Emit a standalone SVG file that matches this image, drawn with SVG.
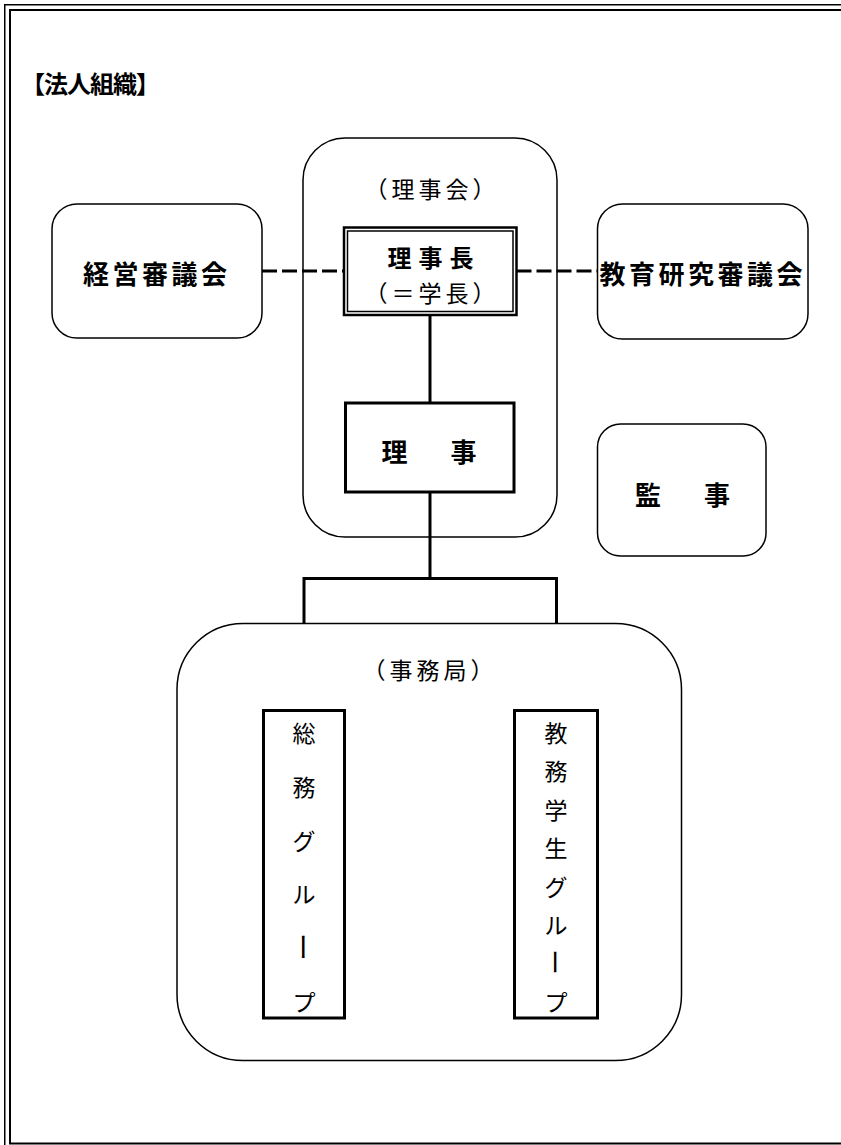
<svg xmlns="http://www.w3.org/2000/svg" width="841" height="1145" viewBox="0 0 841 1145">
<style>
  .t { font-family: "Noto Sans CJK JP", "Noto Sans CJK SC", sans-serif; fill: #000; dominant-baseline: central; text-anchor: middle; }
  .b { font-weight: bold; }
  .r { font-weight: normal; }
  .thin { fill: #fff; stroke: #000; stroke-width: 1.5; }
  .thick { fill: #fff; stroke: #000; stroke-width: 3; }
  .conn { fill: none; stroke: #000; stroke-width: 3; }
  .dash { fill: none; stroke: #000; stroke-width: 3; stroke-dasharray: 15 5; }
</style>
<rect x="0" y="0" width="841" height="1145" fill="#fff"/>
<g id="frame">
  <rect x="4.75" y="4.75" width="900" height="1200" fill="none" stroke="#000" stroke-width="1.5"/>
  <rect x="10" y="10" width="900" height="1133.5" fill="none" stroke="#000" stroke-width="2"/>
</g>
<g id="title">
  <text class="t b" x="90" y="82.5" font-size="24" letter-spacing="-1">【法人組織】</text>
</g>
<g id="rijikai">
  <rect class="thin" x="303" y="138" width="254" height="399" rx="42" ry="42"/>
  <text class="t r" x="432" y="187.5" font-size="23" letter-spacing="4">（理事会）</text>
</g>
<g id="connectors">
  <path class="dash" d="M262,271 H344"/>
  <path class="dash" d="M516.5,271 H597.5"/>
  <path class="conn" d="M430,315 V403"/>
  <path class="conn" d="M430,492 V578.5"/>
  <path class="conn" d="M304,710.5 V578.5 H556.5 V710.5"/>
</g>
<g id="keiei">
  <rect class="thin" x="52" y="204" width="210" height="134" rx="25" ry="25"/>
  <text class="t b" x="156.75" y="272.5" font-size="26" letter-spacing="3.5">経営審議会</text>
</g>
<g id="kyoiku">
  <rect class="thin" x="597.5" y="204" width="210.5" height="135" rx="25" ry="25"/>
  <text class="t b" x="702.75" y="272.5" font-size="26" letter-spacing="3.5">教育研究審議会</text>
</g>
<g id="rijicho">
  <rect x="344" y="227.5" width="172.5" height="87.5" fill="#fff" stroke="#000" stroke-width="2.5"/>
  <rect x="347.5" y="231" width="165.5" height="80.5" fill="none" stroke="#000" stroke-width="1.5"/>
  <text class="t b" x="434" y="256" font-size="24" letter-spacing="7">理事長</text>
  <text class="t r" x="432" y="291.5" font-size="23" letter-spacing="4">（＝学長）</text>
</g>
<g id="riji">
  <rect class="thick" x="345.5" y="403" width="168.5" height="89"/>
  <text class="t b" x="394.5" y="450" font-size="26">理</text>
  <text class="t b" x="463.5" y="450" font-size="26">事</text>
</g>
<g id="kanji">
  <rect class="thin" x="597.5" y="424" width="168.5" height="132" rx="23" ry="23"/>
  <text class="t b" x="648" y="493.5" font-size="26">監</text>
  <text class="t b" x="717" y="493.5" font-size="26">事</text>
</g>
<g id="jimukyoku">
  <rect class="thin" x="177" y="623.5" width="504.5" height="437" rx="66" ry="66"/>
  <text class="t r" x="430" y="668.5" font-size="23" letter-spacing="4">（事務局）</text>
</g>
<g id="somu">
  <rect class="thick" x="263.5" y="710.5" width="81" height="307.5"/>
  <text class="t r" x="304" y="732" font-size="23">総</text>
  <text class="t r" x="304" y="786" font-size="23">務</text>
  <text class="t r" x="304" y="840" font-size="23">グ</text>
  <text class="t r" x="304" y="893" font-size="23">ル</text>
  <text class="t r" x="304" y="947" font-size="28" transform="rotate(90 304 947)">ー</text>
  <text class="t r" x="304" y="1001" font-size="23">プ</text>
</g>
<g id="kyomu">
  <rect class="thick" x="514.5" y="710.5" width="83" height="307.5"/>
  <text class="t r" x="556" y="732" font-size="23">教</text>
  <text class="t r" x="556" y="770" font-size="23">務</text>
  <text class="t r" x="556" y="809" font-size="23">学</text>
  <text class="t r" x="556" y="847" font-size="23">生</text>
  <text class="t r" x="556" y="886" font-size="23">グ</text>
  <text class="t r" x="556" y="924" font-size="23">ル</text>
  <text class="t r" x="556" y="962" font-size="26" transform="rotate(90 556 962)">ー</text>
  <text class="t r" x="556" y="1001" font-size="23">プ</text>
</g>
</svg>
